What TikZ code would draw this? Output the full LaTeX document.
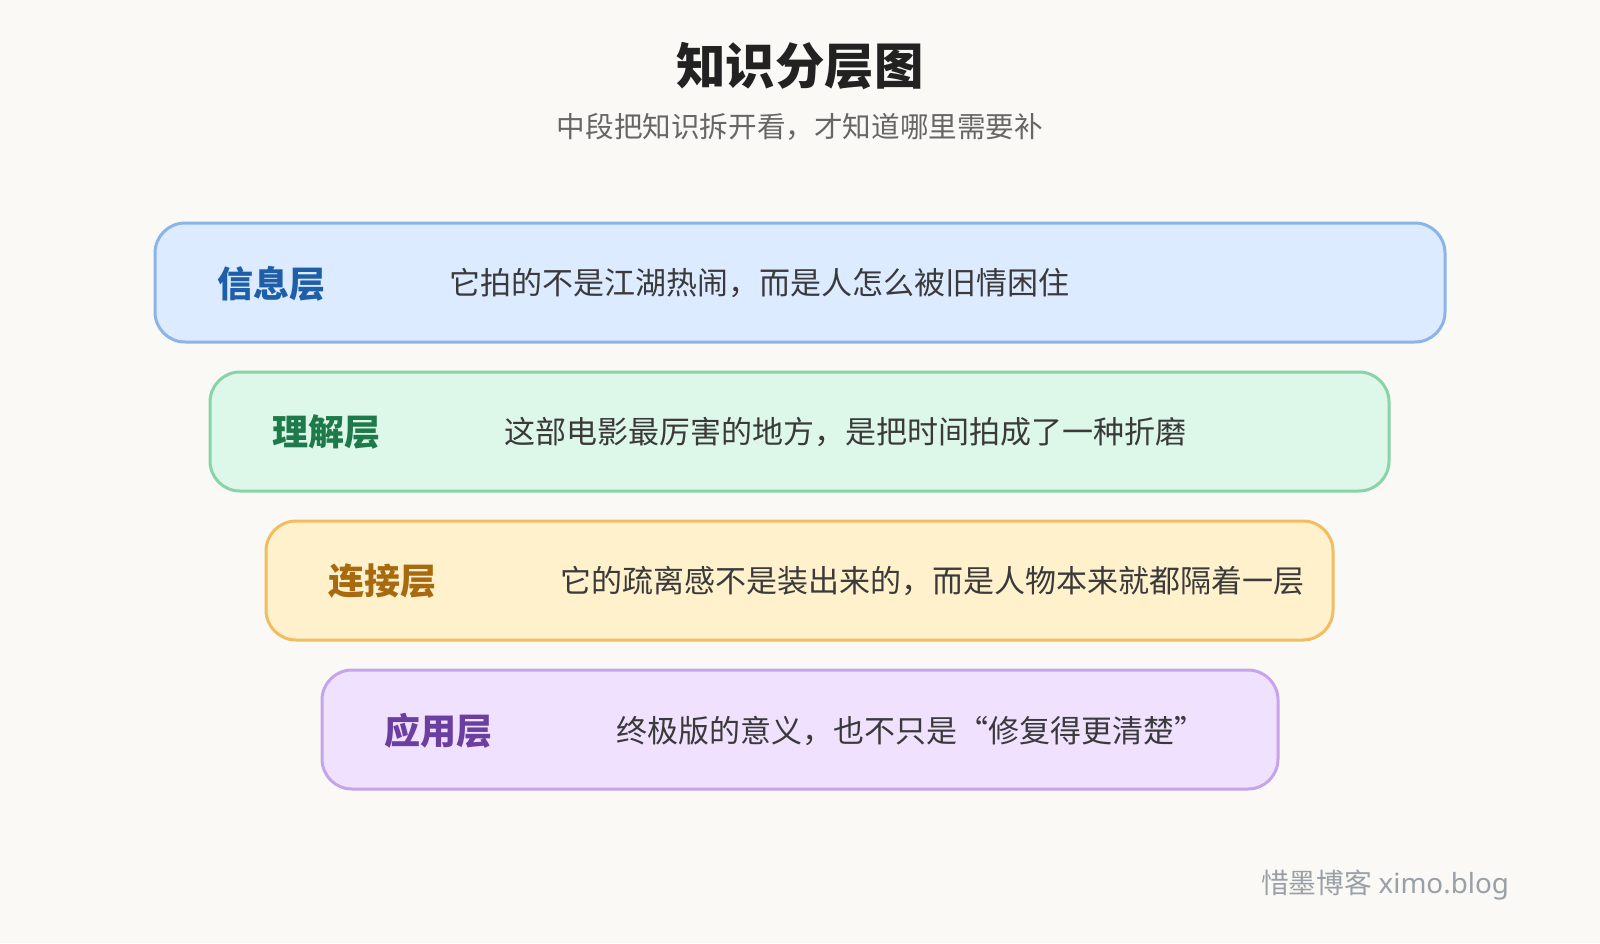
\documentclass[tikz,border=0pt]{standalone}
\usepackage{fontspec}
\setmainfont{Noto Sans CJK SC}
\newfontfamily\cjk{Noto Sans CJK SC}
\newfontfamily\latin{Noto Sans}
\definecolor{bg}{HTML}{FAF9F5}
\definecolor{txt}{HTML}{3A3A3A}
\definecolor{wmc}{HTML}{9AA0A8}
\definecolor{ttc}{HTML}{222222}
\definecolor{subc}{HTML}{666666}
\definecolor{fA}{HTML}{DCEBFF}\definecolor{dA}{HTML}{8AB4EA}\definecolor{lA}{HTML}{1F5FA8}
\definecolor{fB}{HTML}{DDF7E8}\definecolor{dB}{HTML}{88D4A8}\definecolor{lB}{HTML}{1E7A4A}
\definecolor{fC}{HTML}{FFF1CC}\definecolor{dC}{HTML}{F0BE60}\definecolor{lC}{HTML}{A86A10}
\definecolor{fD}{HTML}{F0E2FF}\definecolor{dD}{HTML}{C6A4EC}\definecolor{lD}{HTML}{6B3FA0}
\tikzset{
 layer/.style={rounded corners=15pt,line width=1.5pt},
 lab/.style={anchor=west,font=\cjk\fontsize{18}{20}\selectfont\bfseries},
 body/.style={anchor=west,text=txt,font=\cjk\fontsize{15.5}{18}\selectfont},
}
\begin{document}
\begin{tikzpicture}[x=0.5pt,y=-0.5pt]
\fill[bg] (0,0) rectangle (1600,943);
\useasboundingbox (0,0) rectangle (1600,943);
\node[text=ttc,font=\cjk\fontsize{24.7}{28}\selectfont\bfseries] (title) at (800,66) {知识分层图};
\node[text=subc,font=\cjk\fontsize{14.3}{17}\selectfont] (sub) at (800,127) {中段把知识拆开看，才知道哪里需要补};
\foreach \n/\xa/\xb/\ya/\yb/\c/\l/\t in {
 1/155/1445/223/342/A/信息层/它拍的不是江湖热闹，而是人怎么被旧情困住,
 2/210/1389/372/491/B/理解层/这部电影最厉害的地方，是把时间拍成了一种折磨,
 3/266/1333/521/640/C/连接层/它的疏离感不是装出来的，而是人物本来就都隔着一层,
 4/322/1278/670/789/D/应用层/终极版的意义，也不只是“修复得更清楚”}{
 \draw[layer,fill=f\c,draw=d\c] (\xa,\ya) rectangle (\xb,\yb);
 \node[lab,text=l\c] (lab\n) at ({\xa+55},{(\ya+\yb)/2+1}) {\l};
 \node[body] (body\n) at ({\xa+287},{(\ya+\yb)/2+1}) {\t};
}
\node[anchor=east,text=wmc,font=\cjk\fontsize{13.9}{16}\selectfont] (wm) at (1516,885) {惜墨博客 {\latin ximo.blog}};
\end{tikzpicture}
\end{document}
